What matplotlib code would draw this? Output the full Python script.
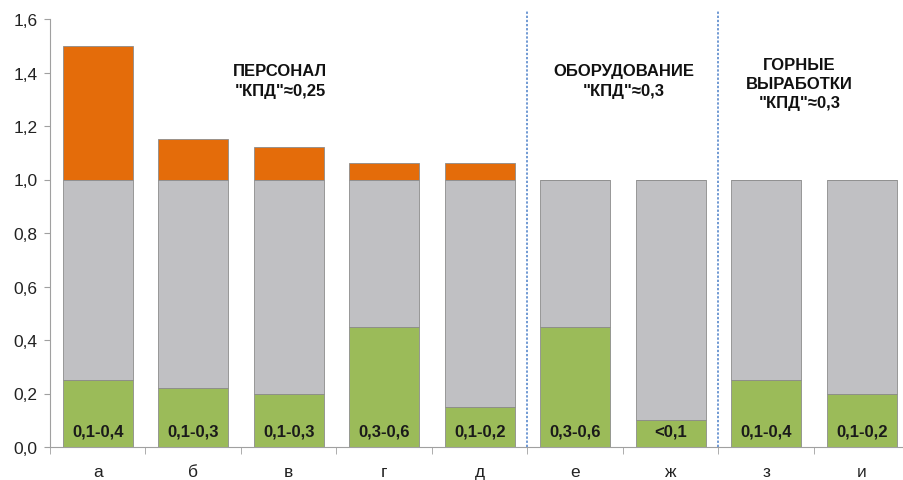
import numpy as np
import matplotlib
matplotlib.use("Agg")
import matplotlib.pyplot as plt

plt.rcParams['font.family'] = ['Liberation Sans', 'DejaVu Sans']

################################################################################
categories = ['а', 'б', 'в', 'г', 'д', 'е', 'ж', 'з', 'и']
green  = [0.25, 0.22, 0.20, 0.45, 0.15, 0.45, 0.10, 0.25, 0.20]
total  = [1.0] * 9
extra  = [1.50, 1.15, 1.12, 1.06, 1.06, 1.0, 1.0, 1.0, 1.0]
ranges = ['0,1-0,4', '0,1-0,3', '0,1-0,3', '0,3-0,6', '0,1-0,2',
          '0,3-0,6', '<0,1', '0,1-0,4', '0,1-0,2']
groups = ['ПЕРСОНАЛ\n"КПД"≈0,25', 'ОБОРУДОВАНИЕ\n"КПД"≈0,3',
          'ГОРНЫЕ\nВЫРАБОТКИ\n"КПД"≈0,3']
group_pos = [(1.91, 1.37), (5.51, 1.37), (7.35, 1.36)]
dividers = [4.5, 6.5]
yticks = [0.0, 0.2, 0.4, 0.6, 0.8, 1.0, 1.2, 1.4, 1.6]

ORANGE = '#E46C0A'
GRAY   = '#C0C0C3'
GREEN  = '#9BBB59'
EDGE   = '#8C8C8C'

################################################################################
fig = plt.figure(figsize=(9.04, 4.81), dpi=100)
ax = fig.add_axes([50/904, 33/481, 859.5/904, 428/481])

x = np.arange(len(categories))
g = np.array(green)
t = np.array(total)
e = np.array(extra)
w = 0.73

ax.bar(x, e - t, w, bottom=t, color=ORANGE, edgecolor=EDGE, linewidth=0.6)
ax.bar(x, t - g, w, bottom=g, color=GRAY, edgecolor=EDGE, linewidth=0.6)
ax.bar(x, g, w, color=GREEN, edgecolor=EDGE, linewidth=0.6)

for xi, lab in zip(x, ranges):
    ax.text(xi, 0.06, lab, ha='center', va='center', fontsize=12,
            fontweight='bold', color='#1a1a1a')

for lab, (px, py) in zip(groups, group_pos):
    ax.text(px, py, lab, ha='center', va='center', fontsize=12,
            fontweight='bold', color='#111111', linespacing=1.35)

for d in dividers:
    ax.plot([d, d], [0, 1.635], color='#4A7EC8', lw=1.1,
            ls=(0, (1.5, 1.2)), clip_on=False, zorder=5)

ax.set_xlim(-0.5, len(categories) - 0.5)
ax.set_ylim(0, 1.6)
ax.set_yticks(yticks)
ax.set_yticklabels([f"{v:.1f}".replace('.', ',') for v in yticks])
ax.set_xticks(x)
ax.set_xticklabels(categories)
ax.set_xticks(np.arange(len(categories) + 1) - 0.5, minor=True)
ax.tick_params(axis='x', which='major', length=0, pad=12, labelsize=12.5,
               colors='#222222')
ax.tick_params(axis='x', which='minor', length=5, color='#A0A0A0')
ax.tick_params(axis='y', length=4, pad=5, labelsize=12.5, color='#A0A0A0',
               labelcolor='#222222')

for s in ['top', 'right']:
    ax.spines[s].set_visible(False)
for s in ['left', 'bottom']:
    ax.spines[s].set_color('#A0A0A0')

fig.savefig('out.png', dpi=100)
